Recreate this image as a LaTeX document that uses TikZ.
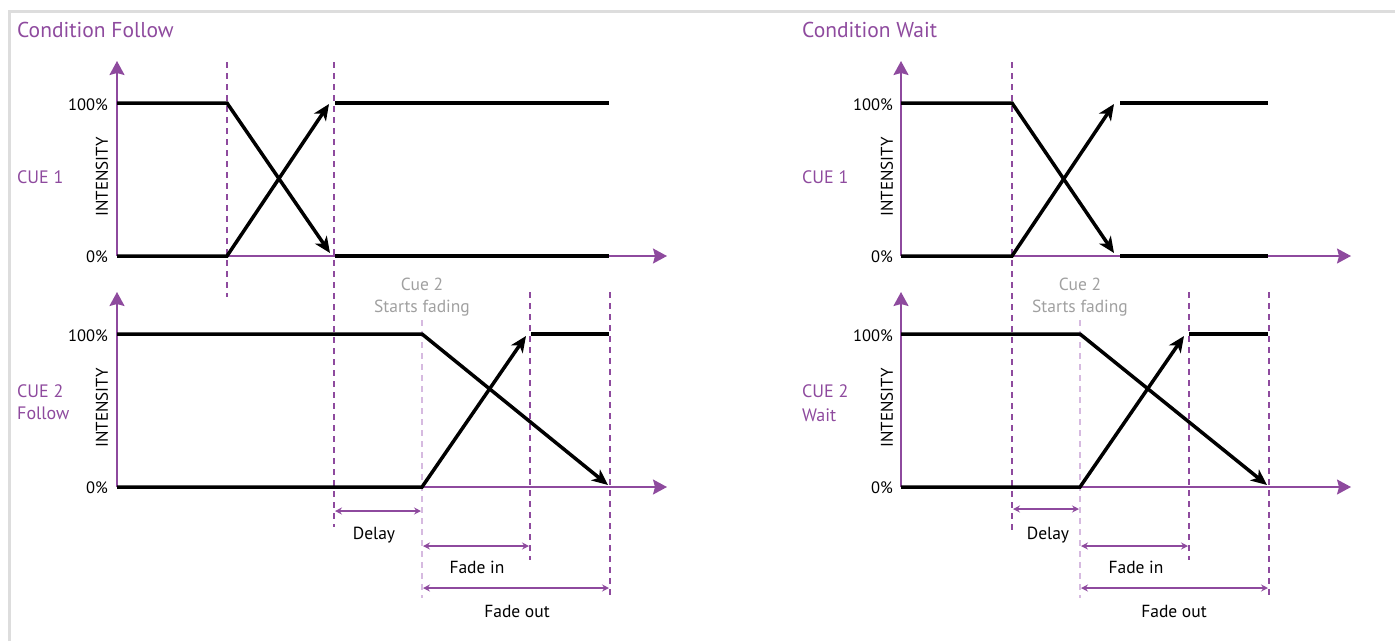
\documentclass[tikz,border=0pt]{standalone}
\usepackage{fontspec}
\setmainfont{PT Sans}
\usetikzlibrary{arrows.meta}
\definecolor{pur}{RGB}{142,74,158}
\definecolor{lpur}{RGB}{214,186,224}
\definecolor{gtxt}{RGB}{160,160,160}
\definecolor{framegray}{RGB}{221,221,221}
\begin{document}
\begin{tikzpicture}[x=1pt,y=-1pt,
  axisline/.style={pur,line width=2pt,-{Stealth[length=14pt,width=15pt,inset=2pt]}},
  xaxisline/.style={pur,line width=1.5pt,-{Stealth[length=14pt,width=15pt,inset=2pt]}},
  level/.style={black,line width=3.8pt},
  ramp/.style={black,line width=3.5pt,line join=miter,-{Stealth[length=16pt,width=14pt,inset=4.5pt]}},
  guide/.style={pur,line width=1.8pt,dash pattern=on 6pt off 5pt},
  lguide/.style={lpur,line width=1.5pt,dash pattern=on 6pt off 5pt},
  dimline/.style={pur,line width=1.3pt,{Stealth[length=7pt,width=7pt,inset=2.5pt]}-{Stealth[length=7pt,width=7pt,inset=2.5pt]}},
  ttl/.style={pur,font=\fontsize{21.5}{25}\selectfont,anchor=base west,inner sep=0},
  cue/.style={pur,font=\fontsize{18}{22}\selectfont,anchor=base west,inner sep=0},
  pct/.style={font=\fontsize{16.5}{19}\selectfont,anchor=base east,inner sep=0},
  ylab/.style={font=\fontsize{17}{19}\selectfont,rotate=90,inner sep=0},
  lab/.style={font=\fontsize{17.5}{19}\selectfont,anchor=base,inner sep=0},
  note/.style={gtxt,font=\fontsize{17.5}{19}\selectfont,anchor=base,inner sep=0},
]
\useasboundingbox (0,0) rectangle (1395,641);
% frame
\coordinate (FA) at (9.5,641);
\coordinate (FB) at (9.5,11.5);
\coordinate (FC) at (1395,11.5);
\draw[framegray,line width=3pt] (FA) -- (FB) -- (FC);

% ================= LEFT PANEL =================
\node[ttl] (Ltitle) at (17,37) {Condition Follow};
% axes top
\coordinate (LO1) at (117,256);
\coordinate (LY1) at (117,61);
\coordinate (LX1) at (667,256);
\draw[xaxisline] (LO1) -- (LX1);
\draw[axisline] (LO1) -- (LY1);
% axes bottom
\coordinate (LO2) at (117,487);
\coordinate (LY2) at (117,292);
\coordinate (LX2) at (667,487);
\draw[xaxisline] (LO2) -- (LX2);
\draw[axisline] (LO2) -- (LY2);
% guides
\coordinate (Lg1a) at (227,62);  \coordinate (Lg1b) at (227,297);
\coordinate (Lg2a) at (334,62);  \coordinate (Lg2b) at (334,527);
\coordinate (Lg3a) at (422,320); \coordinate (Lg3b) at (422,598);
\coordinate (Lg4a) at (530,292); \coordinate (Lg4b) at (530,560);
\coordinate (Lg5a) at (610,292); \coordinate (Lg5b) at (610,598);
\draw[guide] (Lg1a) -- (Lg1b);
\draw[guide] (Lg2a) -- (Lg2b);
\draw[lguide] (Lg3a) -- (Lg3b);
\draw[guide] (Lg4a) -- (Lg4b);
\draw[guide] (Lg5a) -- (Lg5b);
% cue 1 curves
\coordinate (La) at (117,103); \coordinate (Lb) at (227,103); \coordinate (Lc) at (330,253);
\coordinate (Ld) at (335,256); \coordinate (Le) at (609,256);
\coordinate (Lf) at (117,256); \coordinate (Lg) at (227,256); \coordinate (Lh) at (329,104);
\coordinate (Li) at (335,103); \coordinate (Lj) at (609,103);
\draw[ramp] (La) -- (Lb) -- (Lc);
\draw[ramp] (Lf) -- (Lg) -- (Lh);
\draw[level] (Ld) -- (Le);
\draw[level] (Li) -- (Lj);
% cue 2 curves
\coordinate (Lk) at (117,334); \coordinate (Ll) at (422,334); \coordinate (Lm) at (608,485);
\coordinate (Ln) at (117,487); \coordinate (Lo) at (422,487); \coordinate (Lp) at (526,336);
\coordinate (Lq) at (531,334); \coordinate (Lr) at (609,334);
\draw[ramp] (Lk) -- (Ll) -- (Lm);
\draw[ramp] (Ln) -- (Lo) -- (Lp);
\draw[level] (Lq) -- (Lr);
% dimensions
\coordinate (Ld1a) at (335,511); \coordinate (Ld1b) at (421,511);
\coordinate (Ld2a) at (423,546); \coordinate (Ld2b) at (529,546);
\coordinate (Ld3a) at (423,588); \coordinate (Ld3b) at (609,588);
\draw[dimline] (Ld1a) -- (Ld1b);
\draw[dimline] (Ld2a) -- (Ld2b);
\draw[dimline] (Ld3a) -- (Ld3b);
% labels
\node[pct] (Lp100a) at (108,110) {100\%};
\node[pct] (Lp0a) at (108,262) {0\%};
\node[pct] (Lp100b) at (108,341) {100\%};
\node[pct] (Lp0b) at (108,493) {0\%};
\node[ylab] (Lint1) at (102,177) {INTENSITY};
\node[ylab] (Lint2) at (102,408) {INTENSITY};
\node[cue] (Lcue1) at (17,183) {CUE 1};
\node[cue] (Lcue2) at (17,397) {CUE 2};
\node[cue] (Lcue2b) at (17,419) {Follow};
\node[note] (Lcs1) at (422,290) {Cue 2};
\node[note] (Lcs2) at (422,312) {Starts fading};
\node[lab] (Ldelay) at (374,539) {Delay};
\node[lab] (Lfin) at (477,573) {Fade in};
\node[lab] (Lfout) at (517,617) {Fade out};

% ================= RIGHT PANEL =================
\node[ttl] (Rtitle) at (802,37) {Condition Wait};
\coordinate (RO1) at (901,256);
\coordinate (RY1) at (901,61);
\coordinate (RX1) at (1351,256);
\draw[xaxisline] (RO1) -- (RX1);
\draw[axisline] (RO1) -- (RY1);
\coordinate (RO2) at (901,487);
\coordinate (RY2) at (901,292);
\coordinate (RX2) at (1351,487);
\draw[xaxisline] (RO2) -- (RX2);
\draw[axisline] (RO2) -- (RY2);
% guides
\coordinate (Rg1a) at (1012,62);  \coordinate (Rg1b) at (1012,533);
\coordinate (Rg3a) at (1080,320); \coordinate (Rg3b) at (1080,598);
\coordinate (Rg4a) at (1189,292); \coordinate (Rg4b) at (1189,560);
\coordinate (Rg5a) at (1269,292); \coordinate (Rg5b) at (1269,598);
\draw[guide] (Rg1a) -- (Rg1b);
\draw[lguide] (Rg3a) -- (Rg3b);
\draw[guide] (Rg4a) -- (Rg4b);
\draw[guide] (Rg5a) -- (Rg5b);
% cue 1 curves
\coordinate (Ra) at (901,103); \coordinate (Rb) at (1012,103); \coordinate (Rc) at (1114,253);
\coordinate (Rd) at (1120,256); \coordinate (Re) at (1268,256);
\coordinate (Rf) at (901,256); \coordinate (Rg) at (1012,256); \coordinate (Rh) at (1114,104);
\coordinate (Ri) at (1120,103); \coordinate (Rj) at (1268,103);
\draw[ramp] (Ra) -- (Rb) -- (Rc);
\draw[ramp] (Rf) -- (Rg) -- (Rh);
\draw[level] (Rd) -- (Re);
\draw[level] (Ri) -- (Rj);
% cue 2 curves
\coordinate (Rk) at (901,334); \coordinate (Rl) at (1080,334); \coordinate (Rm) at (1267,485);
\coordinate (Rn) at (901,487); \coordinate (Ro) at (1080,487); \coordinate (Rp) at (1184,336);
\coordinate (Rq) at (1189,334); \coordinate (Rr) at (1268,334);
\draw[ramp] (Rk) -- (Rl) -- (Rm);
\draw[ramp] (Rn) -- (Ro) -- (Rp);
\draw[level] (Rq) -- (Rr);
% dimensions
\coordinate (Rd1a) at (1013,509); \coordinate (Rd1b) at (1079,509);
\coordinate (Rd2a) at (1081,546); \coordinate (Rd2b) at (1188,546);
\coordinate (Rd3a) at (1081,588); \coordinate (Rd3b) at (1268,588);
\draw[dimline] (Rd1a) -- (Rd1b);
\draw[dimline] (Rd2a) -- (Rd2b);
\draw[dimline] (Rd3a) -- (Rd3b);
% labels
\node[pct] (Rp100a) at (893,110) {100\%};
\node[pct] (Rp0a) at (893,262) {0\%};
\node[pct] (Rp100b) at (893,341) {100\%};
\node[pct] (Rp0b) at (893,493) {0\%};
\node[ylab] (Rint1) at (887,177) {INTENSITY};
\node[ylab] (Rint2) at (887,408) {INTENSITY};
\node[cue] (Rcue1) at (802,183) {CUE 1};
\node[cue] (Rcue2) at (802,397) {CUE 2};
\node[cue] (Rcue2b) at (802,421) {Wait};
\node[note] (Rcs1) at (1080,290) {Cue 2};
\node[note] (Rcs2) at (1080,312) {Starts fading};
\node[lab] (Rdelay) at (1048,539) {Delay};
\node[lab] (Rfin) at (1136,573) {Fade in};
\node[lab] (Rfout) at (1174,617) {Fade out};
\end{tikzpicture}
\end{document}
